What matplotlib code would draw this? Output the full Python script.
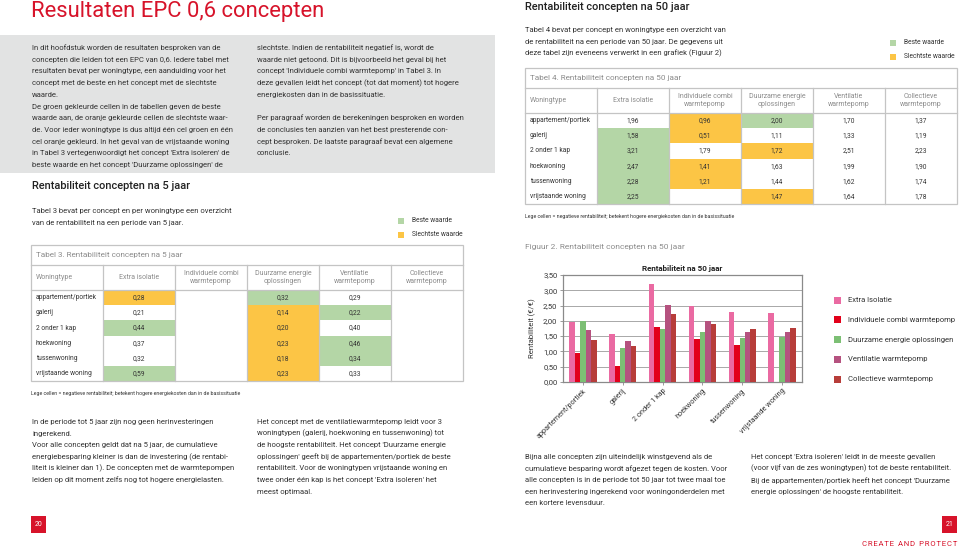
import matplotlib
matplotlib.use("Agg")
import matplotlib.pyplot as plt
from matplotlib.patches import Rectangle

plt.rcParams['font.family'] = ['Roboto', 'DejaVu Sans']

# ---- data ----
woningtypen = ["appartement/portiek", "galerij", "2 onder 1 kap", "hoekwoning",
               "tussenwoning", "vrijstaande woning"]
concepten = ["Extra isolatie", "Individuele combi\nwarmtepomp", "Duurzame energie\noplossingen",
             "Ventilatie\nwarmtepomp", "Collectieve\nwarmtepomp"]
series_names = ["Extra Isolatie", "Individuele combi warmtepomp", "Duurzame energie oplossingen",
                "Ventilatie warmtepomp", "Collectieve warmtepomp"]

# rows = woningtype, columns = concept; None = empty cell (negative)
rent_5 = [
    [0.28, None, 0.32, 0.29, None],
    [0.21, None, 0.14, 0.22, None],
    [0.44, None, 0.20, 0.40, None],
    [0.37, None, 0.23, 0.46, None],
    [0.32, None, 0.18, 0.34, None],
    [0.59, None, 0.23, 0.33, None],
]
rent_50 = [
    [1.96, 0.96, 2.00, 1.70, 1.37],
    [1.58, 0.51, 1.11, 1.33, 1.19],
    [3.21, 1.79, 1.72, 2.51, 2.23],
    [2.47, 1.41, 1.63, 1.99, 1.90],
    [2.28, 1.21, 1.44, 1.62, 1.74],
    [2.25, None, 1.47, 1.64, 1.78],
]
yticks = [0, 0.5, 1.0, 1.5, 2.0, 2.5, 3.0, 3.5]

# ---- styles ----
RED = "#d7132a"
TXT = "#333333"
GREY = "#8c8c8c"
GREEN = "#b4d6a6"
ORANGE = "#fcc545"
LINE = "#c4c4c4"
bar_colors = ["#ea6aa2", "#e2001a", "#7cbf74", "#b5527f", "#b73d3a"]

fig = plt.figure(figsize=(9.6, 5.5), dpi=100)
bg = fig.add_axes([0, 0, 1, 1])
bg.set_xlim(0, 960)
bg.set_ylim(550, 0)
bg.axis("off")

BODY = 5.5


def para(x, y, lines, dy=11.7, size=BODY, color=TXT):
    for i, ln in enumerate(lines):
        bg.text(x, y + i * dy, ln, fontsize=size, color=color, va="center", ha="left")


def fmt(v):
    return f"{v:.2f}".replace(".", ",")


def legend_box(x, y):
    bg.add_patch(Rectangle((x, y - 3), 6, 6, color=GREEN, lw=0))
    bg.text(x + 14, y, "Beste waarde", fontsize=4.8, color=TXT, va="center")
    bg.add_patch(Rectangle((x, y + 11), 6, 6, color=ORANGE, lw=0))
    bg.text(x + 14, y + 14, "Slechtste waarde", fontsize=4.8, color=TXT, va="center")


def draw_table(x0, y0, title, data):
    w = 72
    xs = [x0 + i * w for i in range(7)]
    y_title = y0 + 20
    y_head = y_title + 25
    rh = 15.2
    y_end = y_head + rh * len(woningtypen)
    for r, row in enumerate(data):
        vals = [v for v in row if v is not None]
        best, worst = max(vals), min(vals)
        yc = y_head + rh * (r + 0.5)
        bg.text(xs[0] + 5, yc, woningtypen[r], fontsize=4.8, color=TXT, va="center")
        for c, v in enumerate(row):
            if v is None:
                continue
            cx = xs[c + 1]
            if v == best:
                bg.add_patch(Rectangle((cx, y_head + rh * r), w, rh, color=GREEN, lw=0))
            elif v == worst:
                bg.add_patch(Rectangle((cx, y_head + rh * r), w, rh, color=ORANGE, lw=0))
            bg.text(cx + w / 2, yc, fmt(v), fontsize=4.8, color=TXT, va="center", ha="center")
    bg.add_patch(Rectangle((xs[0], y0), xs[-1] - xs[0], y_end - y0, fill=False, ec=LINE, lw=0.9))
    bg.plot([xs[0], xs[-1]], [y_title, y_title], color=LINE, lw=0.9)
    bg.plot([xs[0], xs[-1]], [y_head, y_head], color=LINE, lw=0.9)
    for x in xs[1:-1]:
        bg.plot([x, x], [y_title, y_end], color=LINE, lw=0.9)
    bg.text(xs[0] + 5, y0 + 10, title, fontsize=5.9, color=GREY, va="center")
    bg.text(xs[0] + 5, (y_title + y_head) / 2, "Woningtype", fontsize=5.0, color=GREY, va="center")
    for c, name in enumerate(concepten):
        bg.text(xs[c + 1] + w / 2, (y_title + y_head) / 2, name, fontsize=5.0, color=GREY,
                va="center", ha="center", linespacing=1.25)
    bg.text(xs[0], y_end + 12, "Lege cellen = negatieve rentabiliteit; betekent hogere "
            "energiekosten dan in de basissituatie", fontsize=3.8, color=TXT, va="center")


# ---------------- left page ----------------
bg.text(31, 12, "Resultaten EPC 0,6 concepten", fontsize=15.8, color=RED, va="center")
bg.add_patch(Rectangle((0, 35), 495, 138, color="#e2e3e3", lw=0))
para(32, 48, [
    "In dit hoofdstuk worden de resultaten besproken van de",
    "concepten die leiden tot een EPC van 0,6. Iedere tabel met",
    "resultaten bevat per woningtype, een aanduiding voor het",
    "concept met de beste en het concept met de slechtste",
    "waarde.",
    "De groen gekleurde cellen in de tabellen geven de beste",
    "waarde aan, de oranje gekleurde cellen de slechtste waar-",
    "de. Voor ieder woningtype is dus altijd één cel groen en één",
    "cel oranje gekleurd. In het geval van de vrijstaande woning",
    "in Tabel 3 vertegenwoordigt het concept 'Extra isoleren' de",
    "beste waarde en het concept 'Duurzame oplossingen' de",
])
para(257, 48, [
    "slechtste. Indien de rentabiliteit negatief is, wordt de",
    "waarde niet getoond. Dit is bijvoorbeeld het geval bij het",
    "concept 'Individuele combi warmtepomp' in Tabel 3. In",
    "deze gevallen leidt het concept (tot dat moment) tot hogere",
    "energiekosten dan in de basissituatie.",
])
para(257, 118, [
    "Per paragraaf worden de berekeningen besproken en worden",
    "de conclusies ten aanzien van het best presterende con-",
    "cept besproken. De laatste paragraaf bevat een algemene",
    "conclusie.",
])

bg.text(32, 186, "Rentabiliteit concepten na 5 jaar", fontsize=7.9, color="#222222",
        va="center", fontweight="medium")
para(32, 211, [
    "Tabel 3 bevat per concept en per woningtype een overzicht",
    "van de rentabiliteit na een periode van 5 jaar.",
])
legend_box(398, 221)
draw_table(31, 245, "Tabel 3. Rentabiliteit concepten na 5 jaar", rent_5)

para(32, 422, [
    "In de periode tot 5 jaar zijn nog geen herinvesteringen",
    "ingerekend.",
    "Voor alle concepten geldt dat na 5 jaar, de cumulatieve",
    "energiebesparing kleiner is dan de investering (de rentabi-",
    "liteit is kleiner dan 1). De concepten met de warmtepompen",
    "leiden op dit moment zelfs nog tot hogere energielasten.",
], dy=11.6)
para(257, 422, [
    "Het concept met de ventilatiewarmtepomp leidt voor 3",
    "woningtypen (galerij, hoekwoning en tussenwoning) tot",
    "de hoogste rentabiliteit. Het concept 'Duurzame energie",
    "oplossingen' geeft bij de appartementen/portiek de beste",
    "rentabiliteit. Voor de woningtypen vrijstaande woning en",
    "twee onder één kap is het concept 'Extra isoleren' het",
    "meest optimaal.",
], dy=11.6)

bg.add_patch(Rectangle((31, 516), 15, 17, color=RED, lw=0))
bg.text(38.5, 524.5, "20", fontsize=5.0, color="white", va="center", ha="center")

# ---------------- right page ----------------
bg.text(525, 7, "Rentabiliteit concepten na 50 jaar", fontsize=7.9, color="#222222",
        va="center", fontweight="medium")
para(525, 30, [
    "Tabel 4 bevat per concept en woningtype een overzicht van",
    "de rentabiliteit na een periode van 50 jaar. De gegevens uit",
    "deze tabel zijn eveneens verwerkt in een grafiek (Figuur 2)",
])
legend_box(890, 43)
draw_table(525, 68, "Tabel 4. Rentabiliteit concepten na 50 jaar", rent_50)

bg.text(525, 247, "Figuur 2. Rentabiliteit concepten na 50 jaar", fontsize=6.0, color=GREY, va="center")

# bar chart
ax = fig.add_axes([563 / 960, 1 - 382 / 550, (802 - 563) / 960, (382 - 275) / 550])
n = len(series_names)
bw = 0.138
for s in range(n):
    xs = [i + (s - (n - 1) / 2) * bw for i in range(len(woningtypen))]
    hs = [row[s] if row[s] is not None else 0 for row in rent_50]
    ax.bar(xs, hs, width=bw, color=bar_colors[s], lw=0, zorder=3)
ax.set_xlim(-0.5, len(woningtypen) - 0.5)
ax.set_ylim(0, 3.5)
ax.set_yticks(yticks)
ax.set_yticklabels([fmt(v) for v in yticks], fontsize=5.5, color=TXT)
ax.set_xticks(range(len(woningtypen)))
ax.set_xticklabels(woningtypen, rotation=45, ha="right", rotation_mode="anchor",
                   fontsize=5.2, color=TXT)
ax.grid(axis="y", color="#a8a8a8", lw=0.7, zorder=0)
for sp in ax.spines.values():
    sp.set_color("#8a8a8a")
    sp.set_linewidth(0.9)
ax.tick_params(axis="both", length=2, width=0.6, color="#8a8a8a", pad=2)
ax.set_ylabel("Rentabiliteit (€/€)", fontsize=5.6, color=TXT, labelpad=5)
ax.set_title("Rentabiliteit na 50 jaar", fontsize=5.8, fontweight="bold", color="#222222", pad=3)

for s, name in enumerate(series_names):
    yy = 300 + s * 19.8
    bg.add_patch(Rectangle((834, yy - 3.5), 7, 7, color=bar_colors[s], lw=0))
    bg.text(848, yy, name, fontsize=5.5, color=TXT, va="center")

para(525, 457, [
    "Bijna alle concepten zijn uiteindelijk winstgevend als de",
    "cumulatieve besparing wordt afgezet tegen de kosten. Voor",
    "alle concepten is in de periode tot 50 jaar tot twee maal toe",
    "een herinvestering ingerekend voor woningonderdelen met",
    "een kortere levensduur.",
], dy=11.6)
para(751, 457, [
    "Het concept 'Extra isoleren' leidt in de meeste gevallen",
    "(voor vijf van de zes woningtypen) tot de beste rentabiliteit.",
    "Bij de appartementen/portiek heeft het concept 'Duurzame",
    "energie oplossingen' de hoogste rentabiliteit.",
], dy=11.6)

bg.add_patch(Rectangle((942, 516), 15, 17, color=RED, lw=0))
bg.text(949.5, 524.5, "21", fontsize=5.0, color="white", va="center", ha="center")
bg.text(957, 544, "C R E A T E   A N D   P R O T E C T".replace("   ", "\u2002").replace(" ", "\u200a"),
        fontsize=5.6, color=RED, va="center", ha="right")

fig.savefig("out.png", dpi=100)
